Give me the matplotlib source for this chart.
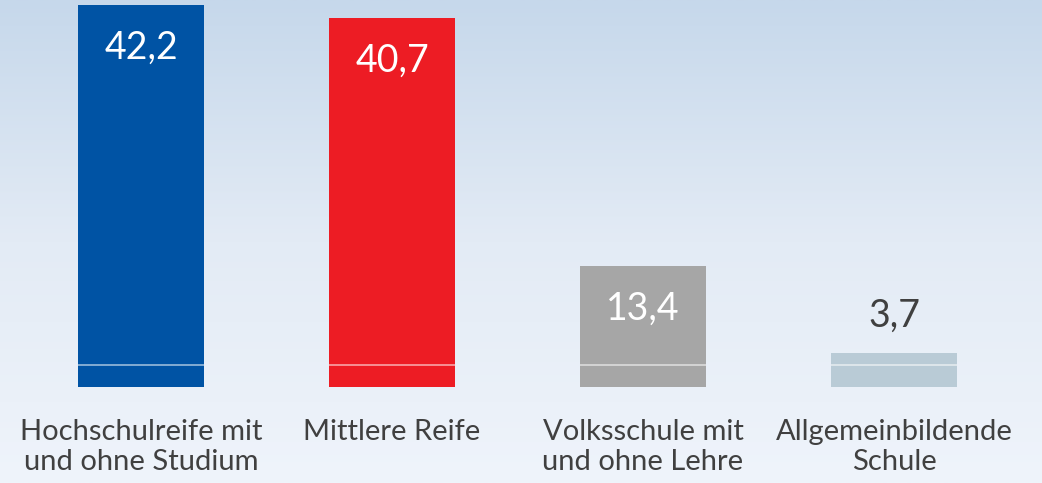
import numpy as np
import matplotlib.pyplot as plt
from matplotlib.colors import LinearSegmentedColormap

# Data
categories = ['Hochschulreife mit\nund ohne Studium', 'Mittlere Reife',
              'Volksschule mit\nund ohne Lehre', 'Allgemeinbildende\nSchule']
values = [42.2, 40.7, 13.4, 3.7]
value_labels = ['42,2', '40,7', '13,4', '3,7']
colors = ['#0053A4', '#ED1C24', '#A6A6A6', '#B9CBD6']
label_inside = [True, True, True, False]

plt.rcParams['font.family'] = ['Lato', 'DejaVu Sans']

fig = plt.figure(figsize=(10.42, 4.83), dpi=100)

# background gradient
bg = fig.add_axes([0, 0, 1, 1], zorder=0)
cmap = LinearSegmentedColormap.from_list('bg', ['#C6D8EB', '#E3EBF5', '#EFF4FB'])
grad = np.linspace(0, 1, 256).reshape(-1, 1)
bg.imshow(grad, aspect='auto', cmap=cmap, extent=[0, 1, 0, 1], origin='upper')
bg.axis('off')

ax = fig.add_axes([0, 0.1988, 1, 0.8012], zorder=1)
ax.patch.set_alpha(0)
x = np.arange(len(values))
bars = ax.bar(x, values, width=0.502, color=colors)

# thin light line near base of each bar
for b in bars:
    ax.hlines(2.4, b.get_x(), b.get_x() + b.get_width(), color='white',
              alpha=0.6, lw=1.2)

for b, lab, inside in zip(bars, value_labels, label_inside):
    cx = b.get_x() + b.get_width() / 2
    top = b.get_height()
    if inside:
        ax.annotate(lab, (cx, top), xytext=(0, -31), textcoords='offset points',
                    ha='center', va='center', color='white', fontsize=27)
    else:
        ax.annotate(lab, (cx, top), xytext=(0, 27), textcoords='offset points',
                    ha='center', va='center', color='#404040', fontsize=27)

ax.set_xlim(-0.5618, 3.5896)
ax.set_ylim(0, 42.7)
ax.set_xticks(x)
ax.set_xticklabels(categories, fontsize=21, color='#404040', linespacing=1.2)
ax.tick_params(axis='x', length=0, pad=23)
ax.set_yticks([])
for s in ax.spines.values():
    s.set_visible(False)

plt.savefig('out.png', dpi=100)
